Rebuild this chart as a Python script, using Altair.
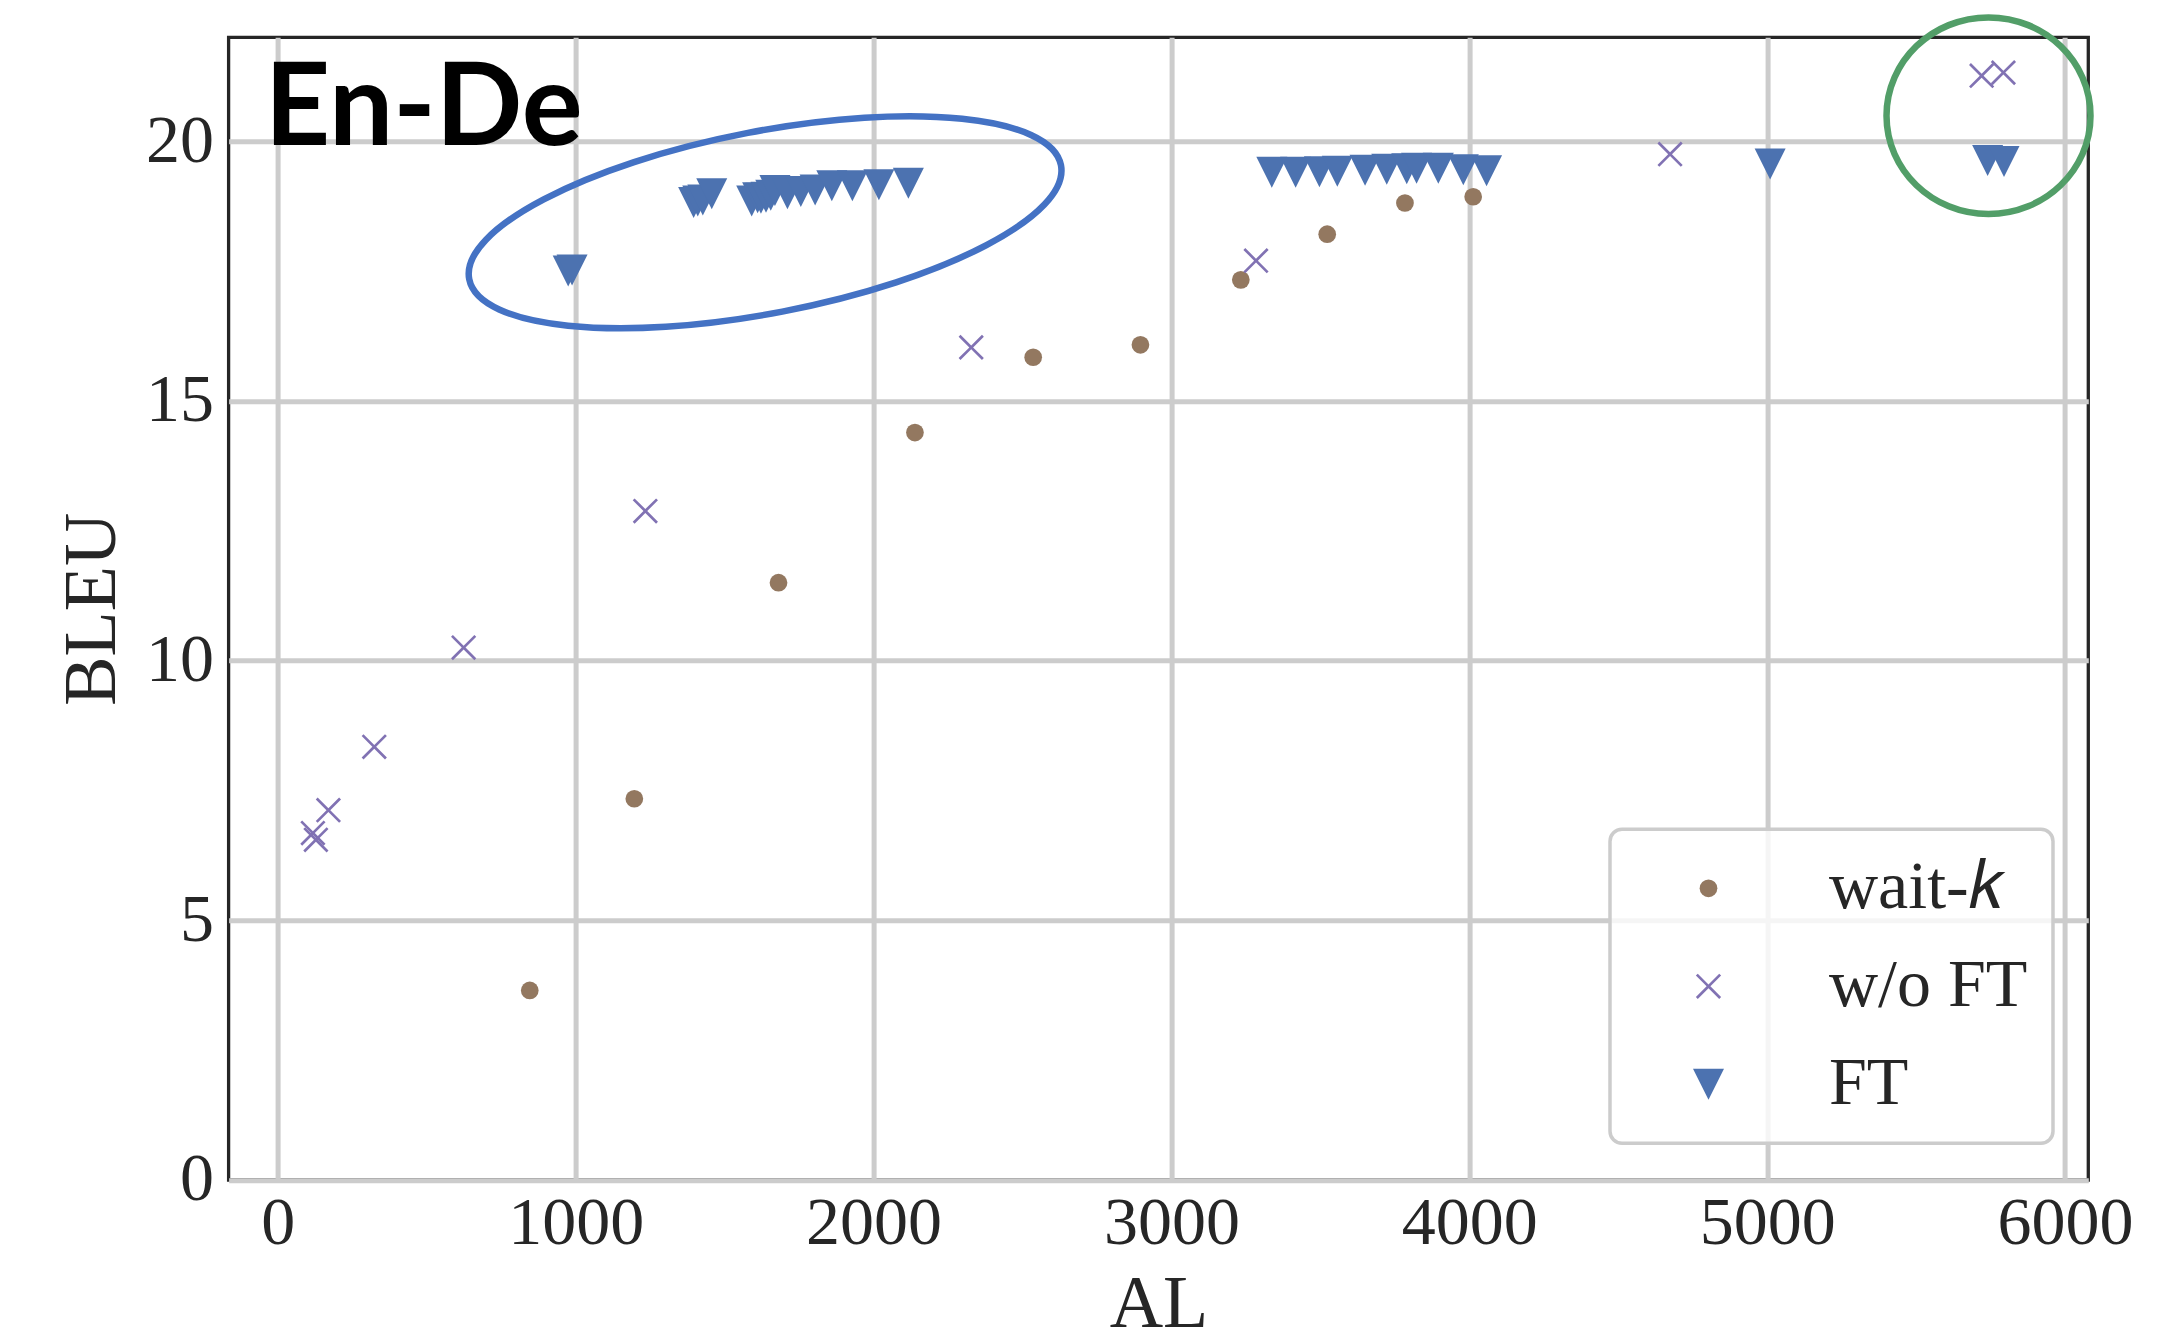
import math
import altair as alt
import pandas as pd

# ---------------- data ----------------
series_names = ["wait-k", "w/o FT", "FT"]
legend_labels = ["wait-\U0001D458", "w/o FT", "FT"]

waitk_al = [846, 1197, 1681, 2139, 2536, 2896, 3233, 3523, 3784, 4013]
waitk_bleu = [3.65, 7.34, 11.50, 14.39, 15.84, 16.08, 17.33, 18.21, 18.81, 18.93]

woft_al = [118, 128, 170, 324, 624, 1234, 2328, 3284, 4674, 5720, 5793]
woft_bleu = [6.68, 6.55, 7.12, 8.34, 10.25, 12.88, 16.03, 17.70, 19.75, 21.26, 21.32]

ft_al = [975, 988, 1396, 1410, 1427, 1457, 1591, 1611, 1622, 1639, 1655, 1669,
         1711, 1756, 1804, 1860, 1929, 2018, 2117,
         3337, 3417, 3497, 3557, 3650, 3723, 3790, 3823, 3896, 3980, 4058,
         5010, 5740, 5795]
ft_bleu = [17.50, 17.52, 18.82, 18.85, 18.87, 18.99, 18.85, 18.91, 18.90, 18.92, 18.96, 19.05,
           18.99, 19.03, 19.06, 19.14, 19.14, 19.16, 19.19,
           19.40, 19.40, 19.41, 19.42, 19.44, 19.46, 19.47, 19.48, 19.48, 19.45, 19.43,
           19.56, 19.63, 19.61]

x_ticks = [0, 1000, 2000, 3000, 4000, 5000, 6000]
y_ticks = [0, 5, 10, 15, 20]

# annotation anchors (data coordinates)
label_text = ["En-De"]
label_al = [-44]
label_bleu = [19.93]
blue_ellipse_al = [1636]
blue_ellipse_bleu = [18.44]
green_circle_al = [5743]
green_circle_bleu = [20.49]

# ---------------- styles ----------------
colors = ["#937860", "#8172b3", "#4c72b0"]


def x_path(k=0.15):
    a = 1 - k
    return (f"M0,{-k}L{a},-1L1,{-a}L{k},0L1,{a}L{a},1L0,{k}L{-a},1L-1,{a}"
            f"L{-k},0L-1,{-a}L{-a},-1Z")


def ellipse_path(ratio, angle_deg):
    kp = 0.5522847
    t = math.radians(angle_deg)
    c, s = math.cos(t), math.sin(t)

    def r(p):
        x, y = p
        return f"{x * c - y * s:.4f},{x * s + y * c:.4f}"

    b = ratio
    segs = [
        ((1, kp * b), (kp, b), (0, b)),
        ((-kp, b), (-1, kp * b), (-1, 0)),
        ((-1, -kp * b), (-kp, -b), (0, -b)),
        ((kp, -b), (1, -kp * b), (1, 0)),
    ]
    d = "M" + r((1, 0))
    for c1, c2, e in segs:
        d += "C" + r(c1) + " " + r(c2) + " " + r(e)
    return d + "Z"


shapes = ["circle", x_path(0.15), "M-1,-1L1,-1L0,1Z"]
sizes = [314, 961, 1225]

rows = []
for al, b in zip(waitk_al, waitk_bleu):
    rows.append({"AL": al, "BLEU": b, "series": series_names[0]})
for al, b in zip(woft_al, woft_bleu):
    rows.append({"AL": al, "BLEU": b, "series": series_names[1]})
for al, b in zip(ft_al, ft_bleu):
    rows.append({"AL": al, "BLEU": b, "series": series_names[2]})
df = pd.DataFrame(rows)

label_expr = ("datum.label == 'wait-k' ? '" + legend_labels[0] + "' : datum.label")

xscale = alt.Scale(domain=[-165, 6078], nice=False, zero=False)
yscale = alt.Scale(domain=[0, 22], nice=False, zero=False)

points = alt.Chart(df).mark_point(filled=True, strokeWidth=0, opacity=1).encode(
    x=alt.X("AL:Q", scale=xscale,
            axis=alt.Axis(values=x_ticks, title="AL", labelPadding=9.5, labelFlush=False,
                          format="d", titleY=146.7, titleBaseline="alphabetic")),
    y=alt.Y("BLEU:Q", scale=yscale,
            axis=alt.Axis(values=y_ticks, title="BLEU", labelPadding=15, format="d",
                          titleX=-113.6, titleY=571.35, titleAngle=270,
                          titleBaseline="alphabetic", titleAlign="center")),
    fill=alt.Fill("series:N", scale=alt.Scale(domain=series_names, range=colors),
                  legend=alt.Legend(title=None, orient="none", legendX=1381.4, legendY=792,
                                    labelExpr=label_expr)),
    shape=alt.Shape("series:N", scale=alt.Scale(domain=series_names, range=shapes)),
    size=alt.Size("series:N", scale=alt.Scale(domain=series_names, range=sizes)),
)

blue_ell = alt.Chart(pd.DataFrame({"AL": blue_ellipse_al, "BLEU": blue_ellipse_bleu})).mark_point(
    shape=ellipse_path(0.302, -10.9), size=(2 * 301.3) ** 2, filled=False,
    stroke="#4472c4", strokeWidth=6.5, opacity=1,
).encode(x="AL:Q", y="BLEU:Q")

green_circ = alt.Chart(pd.DataFrame({"AL": green_circle_al, "BLEU": green_circle_bleu})).mark_point(
    shape=ellipse_path(0.964, 0), size=(2 * 102) ** 2, filled=False,
    stroke="#529e68", strokeWidth=6.5, opacity=1,
).encode(x="AL:Q", y="BLEU:Q")

title_txt = alt.Chart(pd.DataFrame({"AL": label_al, "BLEU": label_bleu, "t": label_text})).mark_text(
    font="Lato", fontWeight="bold", fontSize=114, color="#000000",
    align="left", baseline="alphabetic",
).encode(x="AL:Q", y="BLEU:Q", text="t:N")

chart = alt.layer(points, blue_ell, green_circ, title_txt).properties(
    width=1859.7, height=1142.7,
    autosize=alt.AutoSizeParams(type="none"),
    padding={"left": 220.6, "top": 29.3, "right": 52, "bottom": 150},
).configure(
    font="Liberation Serif",
).configure_view(
    stroke="#262626", strokeWidth=3.3, fill="white",
).configure_axis(
    labelFont="Liberation Serif", labelFontSize=68, labelColor="#262626",
    titleFont="Liberation Serif", titleFontSize=74, titleFontWeight="normal", titleColor="#262626",
    grid=True, gridColor="#cccccc", gridWidth=5, gridOpacity=1,
    ticks=False, tickSize=0, domain=False,
).configure_legend(
    padding=25, strokeColor="#cccccc", strokeWidth=3.5, cornerRadius=12,
    fillColor="rgba(255,255,255,0.8)",
    labelFont="Liberation Serif", labelFontSize=68, labelColor="#262626", labelLimit=500,
    rowPadding=30, symbolOffset=39.5, labelOffset=86.5,
    symbolStrokeWidth=0, symbolOpacity=1,
)

chart.save("out.html", embed_options={"renderer": "svg", "actions": False})
